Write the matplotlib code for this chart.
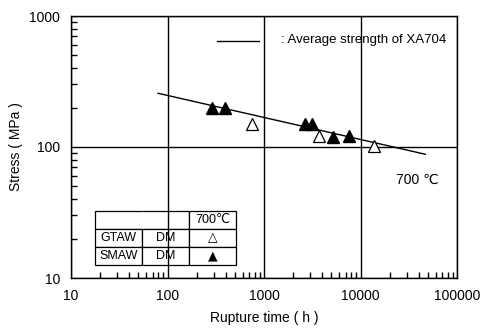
import matplotlib
matplotlib.use('Agg')
import matplotlib.pyplot as plt
from matplotlib.ticker import LogLocator, NullFormatter, FixedLocator, FixedFormatter

plt.rcParams['font.family'] = ['Liberation Sans', 'DejaVu Sans']

# average strength line of XA704
avg_time = [80, 47000]
avg_stress = [257, 88]

# GTAW DM (open triangles)
gtaw_time = [750, 3700, 13700]
gtaw_stress = [150, 121, 101]

# SMAW DM (filled triangles)
smaw_time = [290, 395, 2650, 3150, 5250, 7650]
smaw_stress = [199, 199, 149, 149, 120, 121]

x_ticks = [10, 100, 1000, 10000, 100000]
x_labels = ['10', '100', '1000', '10000', '100000']
y_ticks = [10, 100, 1000]
y_labels = ['10', '100', '1000']

table_rows = [['', '', '700\u2103'],
              ['GTAW', 'DM', '\u25b3'],
              ['SMAW', 'DM', '\u25b2']]

fig = plt.figure(figsize=(4.82, 3.31), dpi=100)
ax = fig.add_axes([71 / 482, 1 - 278 / 331, 386 / 482, 262 / 331])

ax.set_xscale('log')
ax.set_yscale('log')
ax.set_xlim(10, 100000)
ax.set_ylim(10, 1000)

ax.plot(avg_time, avg_stress, color='black', lw=1.0)
ax.plot(gtaw_time, gtaw_stress, linestyle='none', marker='^', ms=8,
        mfc='white', mec='black', mew=0.9)
ax.plot(smaw_time, smaw_stress, linestyle='none', marker='^', ms=8,
        mfc='black', mec='black')

ax.xaxis.set_major_locator(FixedLocator(x_ticks))
ax.xaxis.set_major_formatter(FixedFormatter(x_labels))
ax.yaxis.set_major_locator(FixedLocator(y_ticks))
ax.yaxis.set_major_formatter(FixedFormatter(y_labels))
ax.xaxis.set_minor_locator(LogLocator(base=10, subs=range(2, 10)))
ax.yaxis.set_minor_locator(LogLocator(base=10, subs=range(2, 10)))
ax.xaxis.set_minor_formatter(NullFormatter())
ax.yaxis.set_minor_formatter(NullFormatter())
ax.tick_params(which='both', direction='in', top=False, right=False,
               labelsize=10, color='black')
ax.tick_params(which='major', length=0, pad=8)
ax.tick_params(which='minor', length=4, width=1.0)
ax.grid(which='major', color='black', lw=1.0)
for s in ax.spines.values():
    s.set_linewidth(1.0)
    s.set_color('black')

ax.set_xlabel('Rupture time ( h )', fontsize=10, labelpad=6)
ax.set_ylabel('Stress ( MPa )', fontsize=10, labelpad=4)

# legend line + label, placed in axes fraction
trans = ax.transAxes
ax.plot([(217 - 71) / 386, (259 - 71) / 386], [1 - 24.5 / 262] * 2,
        color='black', lw=1.0, transform=trans)
ax.text((281 - 71) / 386, 1 - 24.5 / 262, ': Average strength of XA704',
        fontsize=9.5, va='center', ha='left', transform=trans)
ax.text((396 - 71) / 386, 1 - 164 / 262, '700 \u2103',
        fontsize=10, va='center', ha='left', transform=trans)

# data table
tbl = ax.table(cellText=table_rows, cellLoc='center',
               colWidths=[47 / 386, 47 / 386, 47 / 386],
               bbox=[(95 - 71) / 386, (278 - 265) / 262, 141 / 386, 54 / 262])
tbl.auto_set_font_size(False)
for (r, c), cell in tbl.get_celld().items():
    cell.set_linewidth(0.9)
    cell.set_edgecolor('black')
    cell.set_facecolor('white')
    txt = cell.get_text()
    if r > 0 and c == 2:
        txt.set_fontsize(9)
        txt.set_family(['DejaVu Sans'])
    else:
        txt.set_fontsize(9)
        txt.set_family(['Liberation Sans', 'DejaVu Sans'])
    if r == 0 and c == 0:
        cell.visible_edges = 'BTL'
    if r == 0 and c == 1:
        cell.visible_edges = 'BTR'

fig.savefig('out.png', dpi=100)
